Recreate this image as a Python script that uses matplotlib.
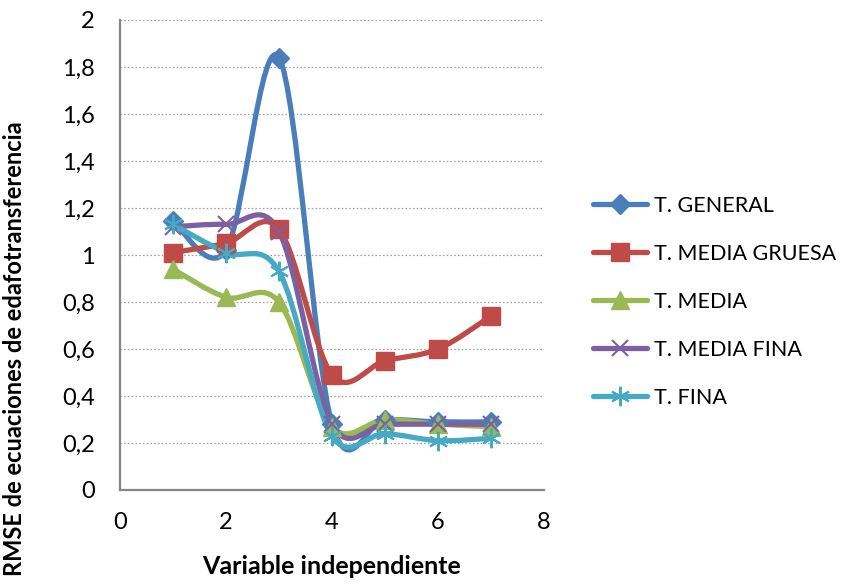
import numpy as np
import matplotlib.pyplot as plt
from matplotlib.path import Path
from matplotlib.patches import PathPatch
from matplotlib.lines import Line2D

plt.rcParams['font.family'] = ['Lato', 'DejaVu Sans']

x = [1, 2, 3, 4, 5, 6, 7]
general = [1.145, 1.02, 1.84, 0.28, 0.30, 0.29, 0.29]
media_gruesa = [1.01, 1.05, 1.11, 0.49, 0.55, 0.60, 0.74]
media = [0.94, 0.82, 0.80, 0.27, 0.30, 0.28, 0.27]
media_fina = [1.12, 1.13, 1.10, 0.28, 0.28, 0.28, 0.28]
fina = [1.13, 1.01, 0.93, 0.23, 0.24, 0.21, 0.22]

labels = ['T. GENERAL', 'T. MEDIA GRUESA', 'T. MEDIA', 'T. MEDIA FINA', 'T. FINA']
colors = ['#4A7EBB', '#BE4B48', '#98B954', '#7D60A0', '#46AAC5']
markers = ['D', 's', '^', 'x', (6, 2, 0)]
msizes = [10, 13, 13, 12, 14]

yticks = [0, 0.2, 0.4, 0.6, 0.8, 1, 1.2, 1.4, 1.6, 1.8, 2]
ytick_labels = ['0', '0,2', '0,4', '0,6', '0,8', '1', '1,2', '1,4', '1,6', '1,8', '2']


def smooth_path(xs, ys):
    # bezier through the points, control points at 1/6 of the neighbour span
    p = np.column_stack([xs, ys]).astype(float)
    n = len(p)
    verts = [p[0]]
    codes = [Path.MOVETO]
    for i in range(n - 1):
        p0 = p[i - 1] if i > 0 else p[i]
        p3 = p[i + 2] if i + 2 < n else p[i + 1]
        c1 = p[i] + (p[i + 1] - p0) / 6
        c2 = p[i + 1] - (p3 - p[i]) / 6
        verts += [c1, c2, p[i + 1]]
        codes += [Path.CURVE4] * 3
    return Path(verts, codes)


fig = plt.figure(figsize=(8.48, 5.88), dpi=100)
ax = fig.add_axes([120 / 848, 1 - 490 / 588, 424 / 848, 470 / 588])

series = [general, media_gruesa, media, media_fina, fina]
handles = []
for ys, c, m, ms, lab in zip(series, colors, markers, msizes, labels):
    ax.add_patch(PathPatch(smooth_path(x, ys), fill=False, edgecolor=c, lw=3.8,
                           capstyle='round', joinstyle='round', zorder=2))
    mew = 1.5 if m in ('x', (6, 2, 0)) else 1
    ax.plot(x, ys, ls='none', marker=m, ms=ms, color=c, mec=c, mew=mew, zorder=3)
    handles.append(Line2D([], [], color=c, lw=3.8, marker=m, ms=ms, mec=c, mew=mew,
                          solid_capstyle='round'))

ax.set_xlim(0, 8)
ax.set_ylim(0, 2)
ax.set_xticks([0, 2, 4, 6, 8])
ax.set_yticks(yticks)
ax.set_yticklabels(ytick_labels)
ax.tick_params(axis='y', labelsize=17, length=0, pad=18)
ax.tick_params(axis='x', labelsize=17, length=0, pad=16)
ax.grid(axis='y', color='#9a9a9a', ls=(0, (1.2, 1.8)), lw=0.9)
ax.set_axisbelow(True)
for s in ['top', 'right']:
    ax.spines[s].set_visible(False)
for s in ['left', 'bottom']:
    ax.spines[s].set_color('#868686')
    ax.spines[s].set_linewidth(1.6)

ax.set_xlabel('Variable independiente', fontsize=18, fontweight='bold', labelpad=16)
ax.set_ylabel('RMSE de ecuaciones de edafotransferencia', fontsize=17,
              fontweight='bold')
ax.yaxis.set_label_coords(-0.222, 0.30)

fig.legend(handles, labels, loc='center left', bbox_to_anchor=(574 / 848, 1 - 302 / 588),
           frameon=False, fontsize=15.5, handlelength=2.5, labelspacing=1.3,
           handletextpad=0.3)

fig.savefig('out.png', dpi=100)
